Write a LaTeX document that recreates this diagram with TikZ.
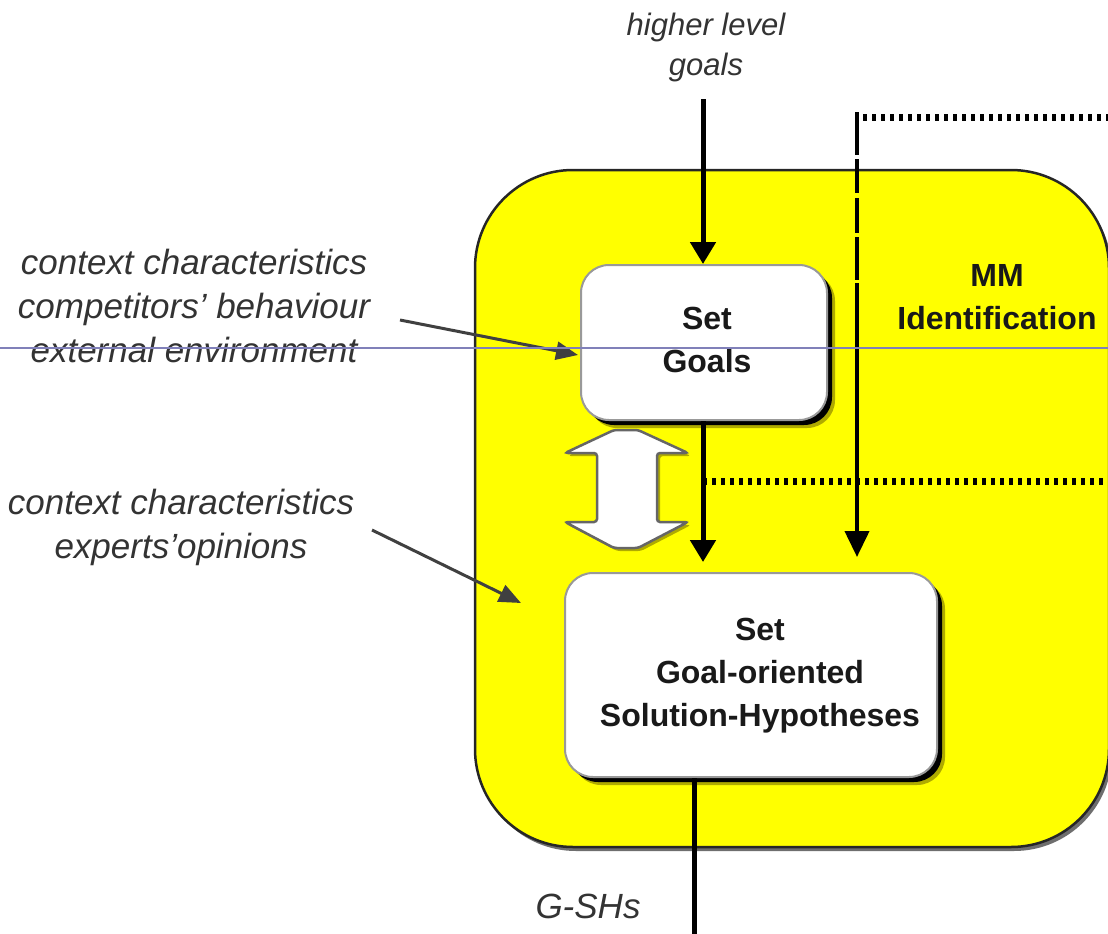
\documentclass[tikz,border=0pt]{standalone}
\usepackage{fontspec}
\setmainfont{Liberation Sans}
\usetikzlibrary{arrows.meta,calc,shadows}
\definecolor{panelyellow}{RGB}{255,255,0}
\definecolor{shadeolive}{RGB}{175,170,0}
\definecolor{panelshade}{RGB}{110,110,110}
\definecolor{scanline}{RGB}{128,128,185}
\begin{document}
\begin{tikzpicture}[x=1pt,y=-1pt,
  panel/.style={fill=panelyellow,draw=black!85,line width=2.5pt,rounded corners=98pt},
  taskbox/.style={rectangle,rounded corners=28pt,fill=white,draw=black!40,line width=2pt,inner sep=0pt,
    general shadow={fill=shadeolive,shadow xshift=8pt,shadow yshift=-8pt},
    general shadow={fill=black,shadow xshift=5pt,shadow yshift=-5pt}},
  boxtext/.style={font=\bfseries\fontsize{32}{43}\selectfont,align=center,inner sep=0pt,text=black!90},
  sidetext/.style={font=\itshape\fontsize{35}{44}\selectfont,align=center,inner sep=0pt,text=black!80},
  flow/.style={line width=5pt,-{Triangle[width=25pt,length=22pt]}},
  dotline/.style={line width=7pt,dash pattern=on 4pt off 5pt},
  feed/.style={line width=3pt,draw=black!75,-{Triangle[width=18pt,length=22pt]}},
  twoway/.style={fill=white,draw=black!60,line width=2.5pt,rounded corners=3pt}]
\useasboundingbox (0,0) rectangle (1108,934);
\begin{scope}
\clip (0,0) rectangle (1108,934);

% identification panel with its drop shadow
\fill[panelshade,rounded corners=98pt] (478,174) rectangle (1112,851);
\draw[panel] (475,170) rectangle (1109,847);
\node[boxtext] (mmlabel) at (997,297) {MM\\Identification};

% task boxes
\node[taskbox,minimum width=246pt,minimum height=155pt] (goals) at (704,342.5) {};
\node[boxtext] (goalstext) at (707,340) {Set\\Goals};
\node[taskbox,minimum width=372pt,minimum height=204pt] (sol) at (751,675) {};
\node[boxtext] (soltext) at (760,676) {Set\\Goal-oriented\\Solution-Hypotheses};

% two-way exchange between goals and hypotheses
\fill[shadeolive,rounded corners=3pt] (617,433) -- (641,433) -- (691,456) -- (660,456) -- (660,525) -- (691,525)
  -- (641,551) -- (617,551) -- (568,525) -- (600,525) -- (600,456) -- (568,456) -- cycle;
\draw[twoway] (614,430) -- (638,430) -- (688,453) -- (657,453) -- (657,522) -- (688,522)
  -- (638,548) -- (614,548) -- (565,522) -- (597,522) -- (597,453) -- (565,453) -- cycle;

% main flow
\coordinate (topin) at (703,99);
\draw[flow] (topin) -- (topin |- goals.north);
\draw[flow] (topin |- goals.south) -- ($(topin |- sol.north)+(0,-10)$);
\coordinate (solout) at (694,934);
\draw[line width=5pt] (solout |- sol.south) -- (solout);

% feedback from the identification step
\coordinate (mmtop) at (857,112);
\coordinate (dotTopR) at (1112,117);
\coordinate (dotMidL) at (703,481);
\coordinate (dotMidR) at (1112,481);
\draw[dotline] (dotMidL) -- (dotMidR);
\draw[dotline,shorten <=6pt] (mmtop |- dotTopR) -- (dotTopR);
\draw[line width=4pt,dash pattern=on 43pt off 4pt on 34pt off 5pt on 35pt off 4pt on 43pt off 3pt on 600pt off 10pt,
  -{Triangle[width=24pt,length=26pt]}] (mmtop) -- ($(mmtop |- sol.north)+(0,-15)$);

% inputs from the left
\node[sidetext] (ctx1) at (194,306) {context characteristics\\competitors' behaviour\\external environment};
\node[sidetext] (ctx2) at (181,527) {context characteristics\\experts'opinions};
\coordinate (in1) at (400,320);
\coordinate (in1tip) at (578,355);
\coordinate (in2) at (372,530);
\coordinate (in2tip) at (521,603);
\draw[feed] (in1) -- (in1tip);
\draw[feed] (in2) -- (in2tip);

% labels on the vertical flow
\node[font=\itshape\fontsize{31}{40}\selectfont,align=center,inner sep=0pt,text=black!80] (higher) at (706,47) {higher level\\goals};
\node[font=\itshape\fontsize{35}{44}\selectfont,inner sep=0pt,anchor=base,text=black!80] (gsh) at (588,918) {G-SHs};

% thin horizontal scan line
\coordinate (scanL) at (0,348);
\coordinate (scanR) at (1108,348);
\draw[scanline,line width=1.2pt] (scanL) -- (scanR);
\end{scope}
\end{tikzpicture}
\end{document}
